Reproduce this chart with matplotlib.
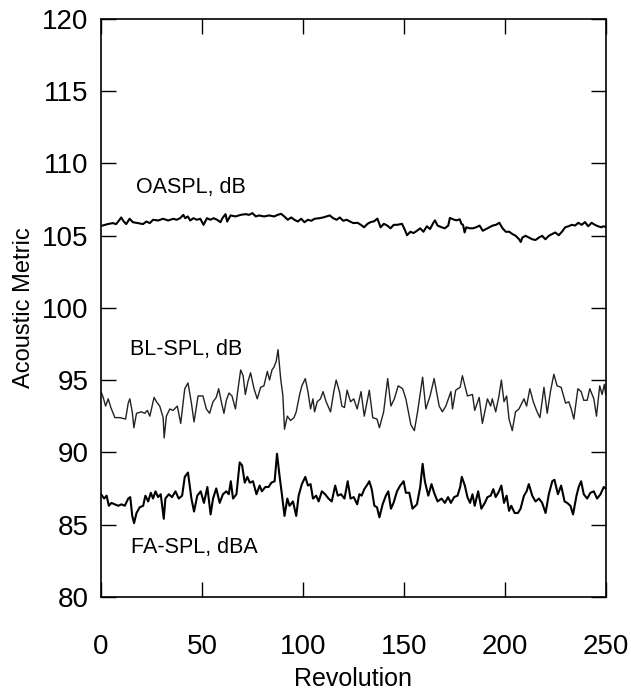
import matplotlib
matplotlib.use("Agg")
import matplotlib.pyplot as plt

plt.rcParams["font.family"] = ["Liberation Sans", "DejaVu Sans"]

# (revolution, level) pairs
oaspl_points = [
    (0.8, 105.69), (3.3, 105.79), (5.8, 105.86), (7.5, 105.79), (9.2, 106.09), (10, 106.25),
    (11.3, 105.97), (12.5, 105.79), (14.2, 106.16), (15.8, 105.92), (18.3, 105.86), (20.8, 105.79),
    (22.5, 105.97), (24.2, 105.86), (25.8, 106.09), (28.3, 106.04), (30.8, 106.16), (33.3, 106.04),
    (35.8, 106.16), (37.5, 106.09), (39.2, 106.2), (40.8, 106.43), (41.7, 106.2), (43, 106.32),
    (44.2, 106.04), (45.8, 106.2), (47.5, 106.09), (49.2, 106.16), (50.8, 105.74), (52.5, 106.2),
    (54.2, 106.09), (55.8, 106.2), (57.5, 106.09), (59.2, 105.92), (60, 106.16), (60.8, 106.32),
    (61.7, 106.48), (62.5, 105.97), (64.2, 106.39), (66.7, 106.32), (69.2, 106.43), (71.7, 106.48),
    (73.3, 106.43), (75, 106.55), (76.7, 106.32), (78.3, 106.39), (80.8, 106.32), (83.3, 106.39),
    (85.8, 106.32), (87.5, 106.43), (89.2, 106.5), (90.8, 106.32), (92.5, 106.09), (94.2, 106.25),
    (95.8, 106.09), (97.5, 105.97), (99.2, 106.16), (100.8, 105.92), (102.5, 106.09), (104.2, 106.02),
    (105.8, 106.16), (108.3, 106.2), (110, 106.25), (111.7, 106.32), (113.3, 106.39), (115, 106.2),
    (116.7, 106.09), (118.3, 106.25), (120, 106.02), (121.7, 106.09), (123.3, 105.97), (125, 105.86),
    (127.1, 105.88), (128.7, 105.74), (130.3, 105.57), (132, 105.81), (133.6, 105.93), (135.2, 105.98),
    (136.9, 106.17), (138.5, 105.57), (140.1, 105.81), (141.8, 105.69), (143.4, 105.5), (145, 105.74),
    (146.7, 105.74), (149.1, 105.81), (150.7, 105.33), (151.6, 105.02), (153.2, 105.26), (154.8, 105.17),
    (156.5, 105.33), (158.1, 105.5), (159.7, 105.26), (161.4, 105.64), (163, 105.45), (164.6, 105.88),
    (165.4, 106.05), (166.7, 105.69), (168.7, 105.57), (170.3, 105.5), (172, 105.69), (172.8, 106.22),
    (174.4, 106.12), (176, 106.05), (177.7, 106.12), (178.5, 105.81), (179.3, 105.74), (180.1, 105.21),
    (180.9, 105.57), (182.6, 105.5), (184.2, 105.5), (185.8, 105.57), (187.5, 105.69), (189.1, 105.33),
    (190.7, 105.45), (192.4, 105.57), (194, 105.69), (195.6, 105.74), (197.3, 105.88), (198.9, 105.5),
    (200.5, 105.26), (202.2, 105.26), (203.8, 105.1), (205.4, 104.98), (207.1, 104.74), (207.9, 104.55),
    (208.7, 104.86), (210.3, 104.98), (212, 104.86), (213.6, 104.74), (215.2, 104.69), (216.9, 104.86),
    (218.5, 104.98), (220.1, 104.74), (221.8, 104.98), (223.4, 105.1), (225, 105.21), (226.7, 105.02),
    (228.3, 105.26), (229.9, 105.57), (231.5, 105.64), (233.2, 105.74), (234.8, 105.69), (236.4, 105.88),
    (238.1, 105.74), (239.7, 105.93), (241.3, 105.64), (243, 105.88), (244.6, 105.74), (246.2, 105.64),
    (247.9, 105.57), (248.7, 105.64), (250, 105.6),
]

bl_points = [
    (0, 94.2), (1.1, 93.8), (2.3, 93.2), (3.6, 93.7), (4.9, 93.1), (6.9, 92.4), (9.4, 92.4),
    (12.2, 92.3), (13.5, 93.4), (14.3, 93.7), (15.5, 92.8), (16.3, 91.7), (17.6, 92.7), (20, 92.8),
    (21.7, 92.7), (23, 92.9), (24.2, 92.5), (26.3, 93.8), (27.5, 93.5), (29.1, 93.2), (30.8, 92.4),
    (31.3, 91.0), (32.4, 92.5), (34.1, 93.0), (35.7, 92.9), (37.8, 93.2), (39.5, 92.0), (41.5, 94.4),
    (43.1, 94.8), (44.8, 93.4), (46.1, 92.1), (48.1, 93.9), (50.5, 93.9), (52.2, 93.0), (53.8, 92.7),
    (55.5, 93.5), (57.1, 93.8), (58.3, 94.4), (59.6, 93.5), (60.9, 92.7), (62.1, 93.6), (63.4, 94.1),
    (64.9, 93.9), (66.6, 93.0), (67.9, 94.4), (69.2, 95.7), (70.4, 95.3), (71.5, 94.0), (72.8, 94.9),
    (74.1, 95.5), (75.8, 94.4), (77.4, 93.7), (79.1, 94.5), (80.7, 94.6), (82.4, 95.6), (83.5, 95.0),
    (84.7, 95.7), (85.7, 95.9), (86.8, 96.3), (87.7, 97.1), (89, 95.1), (90.1, 93.9), (90.9, 91.6),
    (92.3, 92.5), (93.9, 92.2), (95.6, 92.4), (96.7, 92.8), (98.4, 94.0), (99.5, 94.6), (101.2, 95.1),
    (102.5, 94.2), (103.8, 93.0), (105, 93.7), (105.8, 92.8), (107.1, 93.5), (108.7, 93.7), (110, 94.2),
    (111.5, 93.5), (113.7, 92.8), (115.3, 94.2), (116.5, 95.0), (118.1, 94.2), (119.3, 93.2),
    (120.6, 93.1), (121.9, 94.3), (123.6, 93.5), (125.2, 93.7), (126.9, 93.0), (128.8, 94.2),
    (130.4, 92.5), (132.9, 94.3), (134.6, 92.4), (136.7, 92.3), (137.9, 91.7), (140, 92.8), (142, 95.1),
    (143.6, 93.2), (145.3, 93.7), (147.2, 94.6), (149.4, 94.4), (151, 93.7), (153.5, 91.9), (155.2, 91.5),
    (156.8, 92.8), (159.3, 95.2), (160.9, 93.0), (163, 93.9), (165, 95.1), (167.5, 93.2), (169.1, 92.8),
    (170.8, 93.2), (173.3, 94.2), (174.1, 93.0), (175.7, 94.3), (177.9, 94.5), (179, 95.3), (181.5, 93.9),
    (184, 94.0), (185.1, 92.9), (187.3, 93.8), (188.9, 92.0), (191.4, 93.7), (193, 93.2), (193.8, 93.7),
    (195.5, 92.8), (197.1, 93.9), (198.3, 95.0), (199.6, 93.5), (200.9, 93.9), (202.1, 92.3),
    (203.7, 91.5), (205.3, 92.8), (207, 93.0), (209.5, 93.7), (210.8, 93.2), (212.4, 94.4), (214.1, 93.5),
    (216, 92.8), (217.4, 92.4), (219.4, 94.5), (221, 92.7), (222.6, 94.2), (224.3, 95.4), (225.9, 94.6),
    (227.9, 94.5), (230.1, 93.4), (231.7, 93.5), (232.9, 93.0), (234.2, 92.3), (236.2, 94.4),
    (237.8, 94.2), (239.1, 93.6), (240.8, 93.6), (242.1, 94.4), (244.1, 93.7), (245.4, 92.5), (247, 94.6),
    (248.2, 94.0), (249.3, 94.7), (250, 94.0),
]

fa_points = [
    (0, 87.1), (1.6, 86.8), (2.8, 87.0), (3.9, 86.3), (5.2, 86.5), (6.9, 86.4), (8.5, 86.3),
    (10.2, 86.4), (11.8, 86.3), (13.5, 86.8), (14.5, 86.9), (15.5, 85.6), (16.4, 85.1), (17.6, 85.8),
    (19.2, 86.2), (20.9, 86.3), (22, 87.0), (23.4, 86.6), (24.7, 87.2), (25.8, 86.8), (27, 87.3),
    (28.3, 86.9), (29.6, 87.1), (31.1, 85.4), (31.9, 86.8), (33.6, 87.1), (35.2, 86.9), (36.9, 87.3),
    (38.5, 86.8), (40.2, 87.0), (41.5, 88.3), (43.1, 88.6), (44.8, 86.8), (46.1, 85.9), (47.7, 87.0),
    (49.4, 87.3), (51, 86.5), (52.7, 87.6), (54.3, 85.7), (55.5, 86.8), (57.1, 87.5), (58.8, 86.5),
    (60.4, 87.1), (62.1, 87.3), (63.3, 87.1), (64.3, 88.0), (65.4, 86.8), (67.1, 87.1), (68.7, 89.3),
    (69.9, 89.1), (71.2, 87.9), (72.5, 88.3), (73.7, 87.9), (75.3, 88.0), (77, 87.1), (78.6, 87.7),
    (79.7, 87.3), (81.4, 87.6), (83, 87.6), (84.4, 87.9), (86, 88.0), (87.2, 89.9), (88.5, 88.3),
    (89.6, 87.1), (90.9, 85.6), (92.3, 86.8), (93.4, 86.3), (95.1, 86.6), (96.7, 85.6), (97.9, 87.0),
    (99.5, 87.8), (101.2, 88.3), (102.5, 87.7), (103.8, 87.8), (105, 86.8), (106.6, 87.0), (107.8, 86.6),
    (109.4, 87.3), (111, 87.1), (112.7, 86.8), (114.3, 86.6), (116, 87.7), (117.3, 87.0), (118.9, 87.1),
    (120.6, 86.8), (122.2, 88.0), (123.6, 86.8), (125.2, 86.9), (126.9, 86.4), (128, 87.1), (129.1, 87.0),
    (130.4, 87.45), (132.1, 87.8), (132.9, 88.0), (134.1, 87.45), (135.4, 86.3), (136.7, 86.2),
    (137.9, 85.5), (139.5, 86.4), (141.1, 87.0), (142.3, 87.3), (143.6, 86.1), (144.9, 86.5),
    (146.6, 87.3), (148.2, 87.7), (149.9, 88.0), (151, 87.2), (152.7, 87.2), (154.3, 86.1), (156.5, 86.4),
    (158.1, 87.6), (159.3, 89.2), (160.4, 88.0), (162.1, 87.0), (163.7, 87.8), (165, 87.2), (166.7, 86.6),
    (168.7, 86.8), (170.3, 86.5), (171.9, 86.9), (173.3, 86.5), (174.9, 86.9), (176.6, 87.0),
    (177.9, 87.6), (178.7, 88.3), (180.2, 87.7), (181.5, 86.9), (182.8, 86.5), (184, 87.1), (185.1, 86.3),
    (186.8, 87.3), (188.4, 86.1), (190.1, 86.5), (191.4, 86.9), (193, 87.0), (194.3, 87.45), (195.5, 86.9),
    (197.1, 87.3), (198.3, 87.7), (199.6, 86.5), (200.9, 87.0), (202.1, 85.95), (203.2, 86.3),
    (204.9, 85.8), (206.5, 85.8), (207.8, 86.1), (209.5, 87.0), (210.8, 87.3), (211.9, 87.8),
    (213.6, 87.0), (215.2, 86.6), (216.9, 86.8), (218.5, 86.5), (220.2, 85.8), (221.8, 87.1),
    (223.5, 88.0), (224.6, 88.1), (226.3, 87.1), (227.9, 87.7), (229.6, 86.6), (230.9, 86.5),
    (232.5, 86.3), (233.8, 85.7), (235.5, 87.0), (236.6, 87.6), (237.8, 88.0), (239.1, 87.1),
    (240.8, 86.8), (242.4, 87.2), (244.1, 87.3), (245.7, 86.8), (247.4, 87.1), (249, 87.6), (250, 87.5),
]

x_ticks = [0, 50, 100, 150, 200, 250]
y_ticks = [80, 85, 90, 95, 100, 105, 110, 115, 120]

fig = plt.figure(figsize=(6.31, 6.94), dpi=100)
ax = fig.add_axes([0.160, 0.140, 0.800, 0.833])

for pts, lw, col in [(oaspl_points, 1.5, "black"), (bl_points, 1.0, "#222222"), (fa_points, 1.5, "black")]:
    xs, ys = zip(*pts)
    ax.plot(xs, ys, color=col, lw=lw)

ax.text(17.5, 108.3, "OASPL, dB", fontsize=15.5, va="center")
ax.text(14.5, 97.1, "BL-SPL, dB", fontsize=15.5, va="center")
ax.text(15, 83.4, "FA-SPL, dBA", fontsize=15.5, va="center")

ax.set_xlim(0, 250)
ax.set_ylim(80, 120)
ax.set_xticks(x_ticks)
ax.set_yticks(y_ticks)
ax.tick_params(direction="in", length=11, width=1.0, top=True, right=True, labelsize=20)
ax.tick_params(axis="x", pad=27)
ax.tick_params(axis="y", pad=9)
for s in ax.spines.values():
    s.set_linewidth(1.2)

ax.set_xlabel("Revolution", fontsize=18, labelpad=5)
ax.set_ylabel("Acoustic Metric", fontsize=17, labelpad=5)

fig.savefig("out.png", dpi=100)
